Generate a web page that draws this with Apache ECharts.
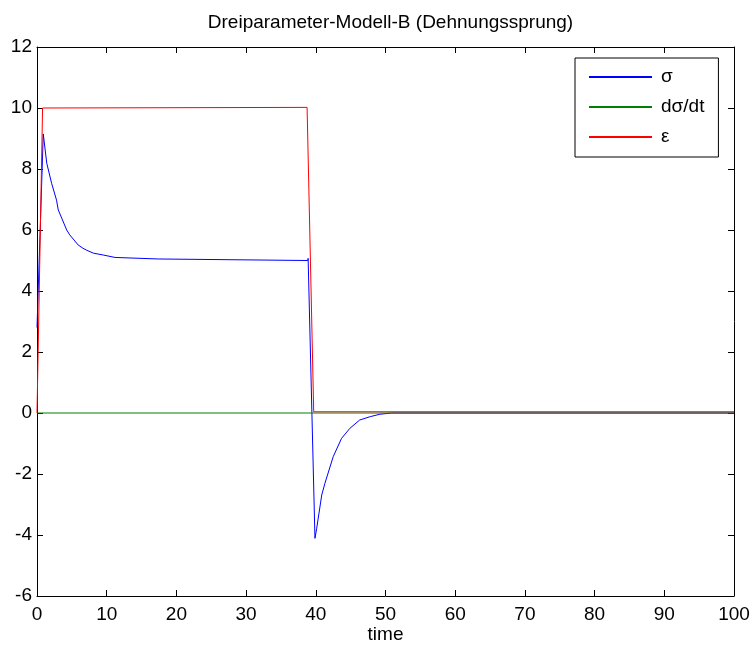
<!DOCTYPE html>
<html>
<head>
<meta charset="utf-8">
<script src="https://cdn.jsdelivr.net/npm/echarts@6/dist/echarts.min.js"></script>
<style>html,body{margin:0;padding:0;background:#fff}#c{width:755px;height:648px}</style>
</head>
<body>
<div id="c"></div>
<script>
// ---- data ----
const titleText = 'Dreiparameter-Modell-B (Dehnungssprung)';
const xName = 'time';
const seriesNames = ['σ', 'dσ/dt', 'ε'];
const xTicks = [0, 10, 20, 30, 40, 50, 60, 70, 80, 90, 100];
const yTicks = [-6, -4, -2, 0, 2, 4, 6, 8, 10, 12];

const sigmaT = [0, 0.9, 1.4, 2.1, 2.8, 3.05, 4.26, 4.7, 5.9, 6.6, 7.1, 8.1, 9.5, 11.2, 17.4, 17.6, 38.85, 38.9, 39.88, 40.13, 40.85, 41.3, 42.5, 43.7, 44.9, 46.3, 47.8, 49.2, 50.9, 100];
const sigmaV = [2.8, 9.15, 8.19, 7.53, 6.98, 6.66, 6.0, 5.84, 5.51, 5.4, 5.34, 5.24, 5.18, 5.10, 5.05, 5.0, 5.0, 5.07, -4.11, -3.78, -2.69, -2.31, -1.43, -0.83, -0.5, -0.23, -0.12, -0.04, 0, 0];

const dsigmaT = [0, 100];
const dsigmaV = [0, 0];

const epsT = [0, 0.8, 38.75, 38.8, 39.7, 100];
const epsV = [0, 10, 10.02, 10.07, 0.04, 0.04];

const colors = ['#0000ff', '#008000', '#ff0000'];

function pairs(t, v) { return t.map((x, i) => [x, v[i]]); }

const FONT = 'Liberation Sans, Arial, sans-serif';
const FS = 19;
const chart = echarts.init(document.getElementById('c'), null, {renderer: 'canvas'});

const baseAxis = {
  axisLine: {show: true, onZero: false, lineStyle: {color: '#000', width: 1}},
  axisTick: {show: true, inside: true, length: 6, lineStyle: {color: '#000', width: 1}},
  splitLine: {show: false}
};

chart.setOption({
  animation: false,
  backgroundColor: '#fff',
  title: {
    text: titleText,
    left: 385.5,
    textAlign: 'center',
    top: 8,
    textStyle: {fontFamily: FONT, fontSize: FS, fontWeight: 'normal', color: '#000'}
  },
  grid: {left: 37, right: 21, top: 47, bottom: 52, containLabel: false, outerBoundsMode: 'none'},
  legend: {
    orient: 'vertical',
    left: 575,
    top: 58,
    padding: [9, 14, 10, 14],
    itemGap: 10,
    itemWidth: 63,
    itemHeight: 2,
    icon: 'rect',
    backgroundColor: '#fff',
    borderColor: '#000',
    borderWidth: 1,
    borderRadius: 0,
    textStyle: {fontFamily: FONT, fontSize: FS, color: '#000', lineHeight: 20, padding: [0, 0, 0, 4]},
    data: seriesNames
  },
  xAxis: [
    Object.assign({}, baseAxis, {
      type: 'value', position: 'bottom', min: xTicks[0], max: xTicks[xTicks.length - 1], interval: 10,
      name: xName, nameLocation: 'middle', nameGap: 29, nameMoveOverlap: false,
      nameTextStyle: {fontFamily: FONT, fontSize: FS, color: '#000'},
      axisLabel: {fontFamily: FONT, fontSize: FS, color: '#000', margin: 9}
    }),
    Object.assign({}, baseAxis, {
      type: 'value', position: 'top', min: xTicks[0], max: xTicks[xTicks.length - 1], interval: 10,
      axisLabel: {show: false}
    })
  ],
  yAxis: [
    Object.assign({}, baseAxis, {
      type: 'value', position: 'left', min: yTicks[0], max: yTicks[yTicks.length - 1], interval: 2,
      axisLabel: {fontFamily: FONT, fontSize: FS, color: '#000', margin: 5}
    }),
    Object.assign({}, baseAxis, {
      type: 'value', position: 'right', min: yTicks[0], max: yTicks[yTicks.length - 1], interval: 2,
      axisLabel: {show: false}
    })
  ],
  series: [
    {name: seriesNames[0], type: 'line', data: pairs(sigmaT, sigmaV), showSymbol: false, symbol: 'none',
     color: colors[0], lineStyle: {color: colors[0], width: 1}, z: 2},
    {name: seriesNames[1], type: 'line', data: pairs(dsigmaT, dsigmaV), showSymbol: false, symbol: 'none',
     color: colors[1], lineStyle: {color: colors[1], width: 1}, z: 3},
    {name: seriesNames[2], type: 'line', data: pairs(epsT, epsV), showSymbol: false, symbol: 'none',
     color: colors[2], lineStyle: {color: colors[2], width: 1}, z: 4}
  ]
});
</script>
</body>
</html>
